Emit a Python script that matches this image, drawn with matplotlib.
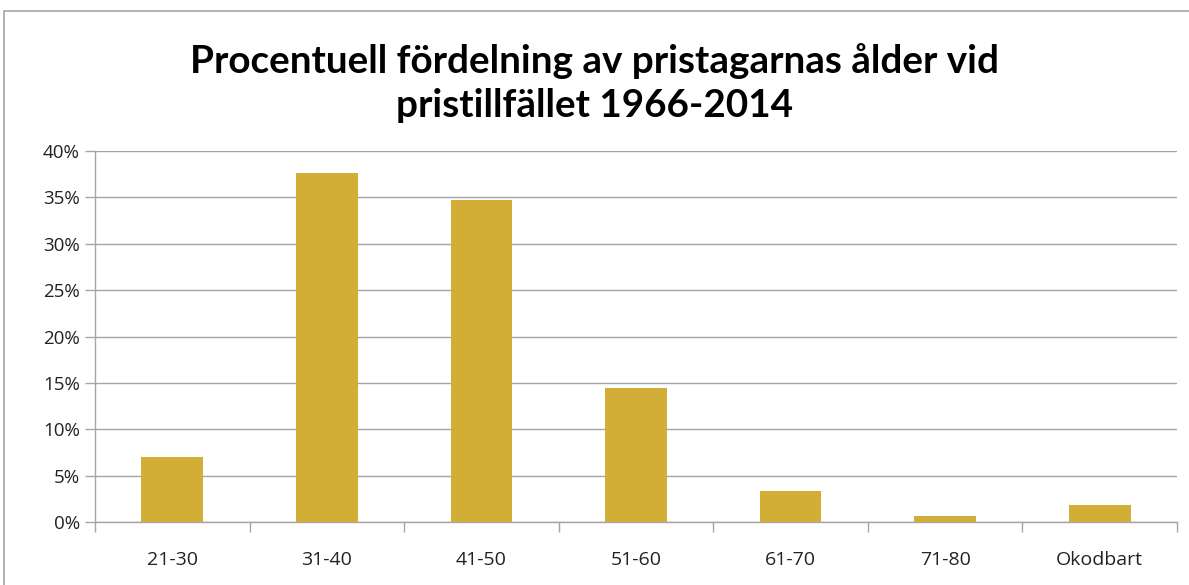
import matplotlib
matplotlib.use("Agg")
import matplotlib.pyplot as plt
from matplotlib.patches import Rectangle
from matplotlib.ticker import FixedLocator, FuncFormatter

categories = ["21-30", "31-40", "41-50", "51-60", "61-70", "71-80", "Okodbart"]
values = [7.0, 37.6, 34.7, 14.5, 3.3, 0.7, 1.8]
title = "Procentuell fördelning av pristagarnas ålder vid\npristillfället 1966-2014"

plt.rcParams['font.family'] = ['Open Sans', 'DejaVu Sans']

fig = plt.figure(figsize=(11.89, 5.85), dpi=100)
fig.patches.append(Rectangle((4/1189, -0.1), 1.2, 1 - 11/585 + 0.1, transform=fig.transFigure,
                             fill=False, edgecolor='#A6A6A6', linewidth=1.2))
ax = fig.add_axes([95/1189, 1 - 522/585, (1177 - 95)/1189, (522 - 151)/585])

x = list(range(len(categories)))
ax.bar(x, values, width=0.40, color='#D3AE37', zorder=3)

ax.set_xlim(-0.5, len(categories) - 0.5)
ax.set_ylim(0, 40)
ax.yaxis.set_major_locator(FixedLocator(list(range(0, 41, 5))))
ax.yaxis.set_major_formatter(FuncFormatter(lambda v, p: f"{int(v)}%"))
ax.grid(axis='y', color='#A5A5A5', linewidth=1.0, zorder=0)

ax.set_xticks(x)
ax.set_xticklabels(categories)
ax.set_xticks([i - 0.5 for i in range(len(categories) + 1)], minor=True)
ax.tick_params(axis='x', which='major', length=0, pad=21, labelsize=14, labelcolor='#222222')
ax.tick_params(axis='x', which='minor', length=7, width=1, color='#A5A5A5', direction='out')
ax.tick_params(axis='y', which='major', length=7, width=1, color='#A5A5A5', labelsize=13.5,
               labelcolor='#222222', pad=4)

for s in ['top', 'right']:
    ax.spines[s].set_visible(False)
for s in ['left', 'bottom']:
    ax.spines[s].set_color('#A5A5A5')
    ax.spines[s].set_linewidth(1.0)

fig.text(0.5, 1 - 83/585, title, ha='center', va='center', fontsize=27.8, fontweight='bold',
         family=['Lato', 'DejaVu Sans'], linespacing=1.3, color='black')

fig.savefig("out.png", dpi=100)
